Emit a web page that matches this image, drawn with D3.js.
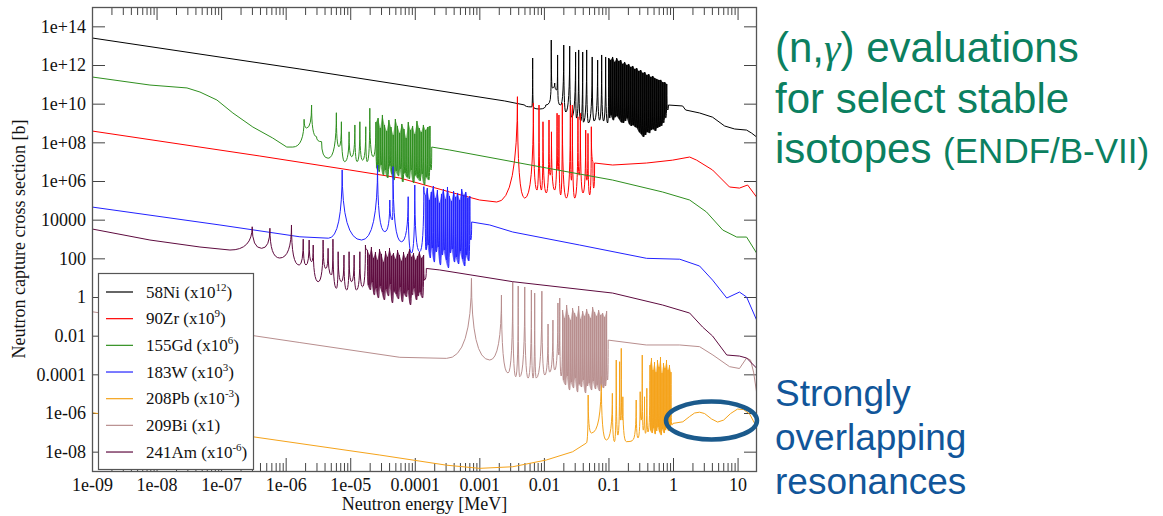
<!DOCTYPE html>
<html><head><meta charset="utf-8">
<script src="https://cdn.jsdelivr.net/npm/d3@7"></script>
<style>body{margin:0;background:#fff;} svg{display:block;}</style>
</head><body><svg id="c" width="1163" height="516"></svg>
<script>
// ---------- axis ticks ----------
const xTickValues = [1e-9,1e-8,1e-7,1e-6,1e-5,1e-4,1e-3,1e-2,1e-1,1,10];
const xTickLabels = ["1e-09","1e-08","1e-07","1e-06","1e-05","0.0001","0.001","0.01","0.1","1","10"];
const yTickValues = [1e14,1e12,1e10,1e8,1e6,1e4,1e2,1,1e-2,1e-4,1e-6,1e-8];
const yTickLabels = ["1e+14","1e+12","1e+10","1e+08","1e+06","10000","100","1","0.01","0.0001","1e-06","1e-08"];

// ---------- 58Ni (x1e12) ----------
const ni58Head = [[1e-9,2.5e13],[1.66e-6,6.2e11],[2.47e-3,1.38e10],[5.05e-3,8.5e9],[6.5e-3,6.8e9],[6.7e-3,2.3e12],[6.9e-3,6.8e9],[8.6e-3,5.3e9],[1.07e-2,8.5e9],[1.27e-2,2.8e10],[1.3e-2,1.96e13],[1.35e-2,6.5e10],[1.47e-2,1.17e11],[1.58e-2,5.1e10],[1.63e-2,3.3e12],[1.69e-2,1.2e10],[1.82e-2,8.5e9],[2.03e-2,1.08e13],[2.18e-2,3.7e9],[2.51e-2,9.5e12],[2.69e-2,2.0e9],[3.1e-2,4.7e12],[3.2e-2,1.8e9],[3.46e-2,6e12],[3.72e-2,1.26e9],[3.99e-2,4.7e12],[4.1e-2,1.1e9],[4.6e-2,6e12],[4.9e-2,1.0e9],[5.6e-2,2.6e12],[6.0e-2,1.26e9],[6.8e-2,1.8e12],[7.3e-2,1.4e9],[7.85e-2,3.3e12],[8.4e-2,1.26e9],[9.05e-2,2.6e12],[9.7e-2,1.0e9]];
const ni58ForestE = [0.101,0.108,0.116,0.125,0.134,0.144,0.155,0.166,0.178,0.192,0.206,0.221,0.238,0.255,0.274,0.294,0.316,0.340,0.365,0.392,0.421,0.452,0.485,0.521,0.560,0.601,0.646,0.693,0.745,0.800];
const ni58ForestPeak = [2.3e12,1.8e12,2.6e12,1.43e12,2.3e12,1.6e12,1.8e12,1.13e12,1.43e12,1.0e12,1.13e12,7.9e11,8.9e11,6.2e11,7e11,4.9e11,5.5e11,3.9e11,4.3e11,3.0e11,3.4e11,2.4e11,2.7e11,2.1e11,1.9e11,1.7e11,1.7e11,1.3e11,1.3e11,1.04e11];
const ni58ValleyE = [0.105,0.112,0.120,0.129,0.139,0.149,0.160,0.172,0.185,0.199,0.213,0.229,0.246,0.264,0.284,0.305,0.328,0.352,0.378,0.406,0.436,0.468,0.503,0.540,0.580,0.623,0.669,0.718,0.772,0.829];
const ni58Valley = [1.8e9,2.6e9,1.4e9,2.0e9,2.3e9,1.6e9,1.1e9,1.0e9,1.27e9,1.8e9,8.9e8,7e8,7.9e8,6.2e8,5.5e8,3.4e8,2.7e8,1.9e8,2.4e8,3.4e8,3.0e8,4.3e8,4.9e8,3.85e8,5.5e8,6.2e8,7e8,1.0e9,1.8e9,4.7e9];
const ni58Tail = [[0.85,8.5e9],[1.41,7.6e9],[1.57,4.7e9],[2.58,3.3e9],[4.1,2.0e9],[6.3,7e8],[9.0,4.9e8],[13.8,4.3e8],[16.5,3e8],[19.7,1.9e8]];

// ---------- 90Zr (x1e9) ----------
const zr90 = [[1e-9,3.85e8],[3.99e-7,1.96e7],[9.86e-6,3.7e6],[5.86e-5,1.43e6],[3.48e-4,2.7e5],[1.01e-3,1.04e5],[1.86e-3,8.2e4],[3.89e-3,2.3e10],[5.05e-3,1.3e5],[6.87e-3,1.08e10],[7.81e-3,3.4e5],[8.4e-3,8.5e9],[9.14e-3,3.4e5],[9.68e-3,1.16e9],[1.09e-2,2.4e5],[1.2e-2,1.43e9],[1.25e-2,2.0e6],[1.31e-2,3.5e8],[1.47e-2,3.4e5],[1.6e-2,3.2e9],[1.66e-2,3.7e6],[1.71e-2,2.6e9],[1.82e-2,1.9e5],[1.93e-2,1.05e10],[2.23e-2,1.3e5],[2.57e-2,8.5e9],[2.67e-2,1.1e6],[2.76e-2,8.5e9],[3.0e-2,1.3e5],[3.37e-2,2.1e9],[3.52e-2,2.0e6],[3.67e-2,3.2e9],[4.03e-2,2.4e5],[4.44e-2,4.3e8],[4.63e-2,1.1e6],[4.82e-2,2.9e8],[5.12e-2,1.9e5],[5.43e-2,6.4e8],[5.75e-2,9.9e6],[5.9e-2,4.3e5],[6.1e-2,8.5e6],[0.116,6.7e6],[0.39,8.5e6],[0.986,1.2e7],[1.81,1.74e7],[2.32,1.2e7],[4.1,3.7e6],[7.5,4.9e5],[10.7,4.3e5],[14.3,6.2e5],[19.7,1.48e5]];

// ---------- 155Gd (x1e6) ----------
const gd155Head = [[1e-9,2.4e11],[7.9e-9,9.2e10],[2.96e-8,6.5e10],[4.7e-8,4.0e10],[8.6e-8,1.55e10],[1.52e-7,3.3e9],[3.1e-7,6.2e8],[6.3e-7,1.67e8],[1.04e-6,5.7e7],[1.29e-6,5.7e7],[1.93e-6,1.55e9],[2.11e-6,5.5e8],[2.52e-6,8.5e9],[3.01e-6,1.95e8],[3.6e-6,1.08e8],[4.55e-6,1.5e7],[6.1e-6,3.4e9],[6.7e-6,5.9e7],[7.3e-6,1.16e9],[8.2e-6,1.0e7],[9.6e-6,3.5e8],[1.05e-5,1.8e7],[1.18e-5,7.9e8],[1.28e-5,1.0e7],[1.41e-5,1.16e9],[1.55e-5,1.2e7],[1.74e-5,6.4e8],[1.83e-5,1.0e7],[2.01e-5,5.8e9],[2.26e-5,1.8e7]];
const gd155ForestE = [2.5e-5,2.7e-5,2.92e-5,3.15e-5,3.4e-5,3.67e-5,3.97e-5,4.28e-5,4.63e-5,5.0e-5,5.4e-5,5.83e-5,6.3e-5,6.8e-5,7.34e-5,7.93e-5,8.57e-5,9.25e-5,1.0e-4,1.08e-4,1.17e-4,1.26e-4,1.36e-4,1.47e-4,1.59e-4,1.72e-4];
const gd155ForestPeak = [1.12e9,1.8e9,5.5e8,2.6e9,7.9e8,3.85e8,1.43e9,6.2e8,2.4e8,1.6e9,7.0e8,3.0e8,8.9e8,4.9e8,1.67e8,1.12e9,4.3e8,7.0e8,2.7e8,1.27e9,5.5e8,3.4e8,7.9e8,4.3e8,6.2e8,7.0e8];
const gd155ValleyE = [2.6e-5,2.81e-5,3.03e-5,3.28e-5,3.54e-5,3.82e-5,4.12e-5,4.45e-5,4.81e-5,5.2e-5,5.61e-5,6.06e-5,6.55e-5,7.07e-5,7.64e-5,8.25e-5,8.91e-5,9.62e-5,1.04e-4,1.12e-4,1.21e-4,1.31e-4,1.42e-4,1.53e-4,1.65e-4,1.79e-4];
const gd155Valley = [4.7e6,2.9e6,6.7e6,2.0e6,3.7e6,1.43e6,6.0e6,2.3e6,1.12e6,3.3e6,1.8e6,4.2e6,8.9e5,2.6e6,1.6e6,1.27e6,3.7e6,7.9e5,2.0e6,1.43e6,1.0e6,2.3e6,6.2e5,1.6e6,1.12e6,3.7e6];
const gd155Tail = [[1.83e-4,5.7e7],[3.48e-4,4.0e7],[1.1e-2,4.7e6],[0.116,1.12e6],[0.69,2.7e5],[1.81,1.04e5],[3.3,2.5e4],[5.9,2.9e3],[9.7,1.26e3],[13.8,1.26e3],[19.7,188]];

// ---------- 183W (x1e3) ----------
const w183Head = [[1e-9,4.5e4],[9.6e-8,5.3e3],[1.66e-6,1.3e3],[4.6e-6,1.1e3],[7.5e-6,3.7e6],[1.5e-5,885],[2.65e-5,6.7e6],[3.43e-5,2.4e3],[4.1e-5,1.04e5],[4.5e-5,9.6e3],[4.6e-5,5.5e6],[6.2e-5,720],[7.9e-5,1.54e5],[8.9e-5,188],[1.0e-4,6.2e5],[1.19e-4,219],[1.38e-4,5.1e5]];
const w183ForestE = [1.45e-4,1.56e-4,1.68e-4,1.8e-4,1.94e-4,2.08e-4,2.24e-4,2.41e-4,2.59e-4,2.78e-4,2.99e-4,3.21e-4,3.45e-4,3.71e-4,3.99e-4,4.29e-4,4.61e-4,4.96e-4,5.33e-4,5.73e-4,6.16e-4,6.62e-4,7.12e-4];
const w183ForestPeak = [1.9e5,4.3e5,1.04e5,2.7e5,5.5e5,1.32e5,3.4e5,7.3e4,2.1e5,3.85e5,1.17e5,4.9e5,1.67e5,9.2e4,3.0e5,1.48e5,2.4e5,1.04e5,3.85e5,1.9e5,2.7e5,1.32e5,1.67e5];
const w183ValleyE = [1.5e-4,1.62e-4,1.74e-4,1.87e-4,2.01e-4,2.16e-4,2.32e-4,2.5e-4,2.69e-4,2.88e-4,3.1e-4,3.33e-4,3.58e-4,3.85e-4,4.14e-4,4.45e-4,4.78e-4,5.14e-4,5.53e-4,5.94e-4,6.39e-4,6.87e-4,7.38e-4];
const w183Valley = [269,488,104,341,64,212,385,45,148,269,82,32,188,303,64,117,51,239,92,40,148,73,885];
const w183Tail = [[7.6e-4,7.6e3],[1.45e-3,5.3e3],[3.29e-3,2.3e3],[3.58e-2,488],[0.39,100],[1.27,90],[2.58,40],[4.1,7.5],[6.8,0.885],[10.7,1.8],[13.8,1.0],[19.7,0.065]];

// ---------- 208Pb (x1e-3) ----------
const pb208Head = [[1e-9,1.04e-6],[3.1e-7,5.9e-8],[2.87e-5,6.7e-9],[3.1e-4,2.0e-9],[1.01e-3,1.37e-9],[3.29e-3,1.66e-9],[1.09e-2,3.7e-9],[2.79e-2,9.9e-9],[4.55e-2,2.8e-8],[4.85e-2,8.5e-6],[5.43e-2,9.2e-8],[7.75e-2,7.5e-5],[9.25e-2,4.0e-8],[0.115,1.04e-5],[0.124,3.3e-8],[0.132,5.5e-4],[0.14,7.2e-8],[0.149,4.5e-4],[0.153,4.3e-7],[0.158,2.2e-3],[0.163,4.3e-7],[0.167,6.9e-6],[0.189,3.3e-8],[0.236,4.0e-8],[0.269,4.7e-6],[0.287,5.1e-8],[0.31,1.26e-5],[0.322,4.3e-7],[0.334,9.9e-4],[0.346,1.3e-7],[0.362,6.9e-6],[0.375,8.9e-8],[0.393,1.9e-5],[0.41,1.04e-7]];
const pb208ForestE = [0.44,0.464,0.49,0.517,0.545,0.575,0.607,0.64,0.675,0.712,0.751,0.793,0.836,0.882,0.93];
const pb208ForestPeak = [3.0e-4,6.9e-4,1.67e-4,4.3e-4,1.3e-4,5.5e-4,2.4e-4,7.8e-4,1.17e-4,3.8e-4,2.1e-4,5.5e-4,1.67e-4,3.0e-4,1.3e-4];
const pb208ValleyE = [0.452,0.477,0.503,0.531,0.56,0.59,0.623,0.657,0.693,0.731,0.771,0.814,0.859,0.906,0.955];
const pb208Valley = [1.3e-7,9.2e-8,1.67e-7,8.1e-8,1.17e-7,1.9e-7,1.04e-7,7.2e-8,1.48e-7,9.2e-8,1.3e-7,1.67e-7,1.17e-7,2.1e-7,2.4e-7];
const pb208Tail = [[0.996,2.9e-7],[1.42,3.5e-7],[1.81,6.6e-7],[2.16,1.0e-6],[2.58,1.1e-6],[3.08,9.4e-7],[3.96,4.9e-7],[4.91,3.4e-7],[6.08,4.3e-7],[7.8,9.4e-7],[10,1.6e-6],[12.4,1.5e-6],[15.4,8.8e-7],[18.3,3.0e-7],[19.7,1.67e-7]];

// ---------- 209Bi (x1) ----------
const bi209Head = [[1e-9,0.173],[4.7e-8,0.0257],[1.66e-6,4.4e-3],[5.86e-5,7.6e-4],[3.1e-4,6.7e-4],[7.55e-4,9.2],[1.45e-3,5.5e-4],[2.2e-3,1.26],[2.78e-3,1.17e-4],[3.29e-3,5.9],[3.66e-3,7.5e-5],[4.0e-3,3.7],[4.22e-3,7.5e-5],[5.05e-3,3.3],[5.7e-3,6.4e-5],[6.4e-3,2.3],[6.8e-3,6.4e-5],[7.2e-3,1.6],[7.6e-3,6.4e-5],[9.3e-3,2.0],[1.03e-2,9.2e-5],[1.16e-2,0.04],[1.23e-2,1.3e-4],[1.38e-2,0.064],[1.47e-2,1.67e-4],[1.65e-2,0.49],[1.7e-2,1e-3],[1.76e-2,0.88],[1.85e-2,8.2e-5]];
const bi209ForestE = [1.95e-2,2.09e-2,2.25e-2,2.41e-2,2.59e-2,2.78e-2,2.99e-2,3.21e-2,3.45e-2,3.7e-2,3.98e-2,4.27e-2,4.59e-2,4.93e-2,5.29e-2,5.68e-2,6.1e-2,6.55e-2,7.04e-2,7.56e-2,8.12e-2,8.72e-2,9.36e-2];
const bi209ForestPeak = [0.212,0.082,0.385,0.117,0.064,0.269,0.148,0.092,0.342,0.073,0.188,0.104,0.239,0.132,0.082,0.303,0.167,0.104,0.212,0.117,0.148,0.092,0.188];
const bi209ValleyE = [2.02e-2,2.17e-2,2.33e-2,2.5e-2,2.69e-2,2.88e-2,3.1e-2,3.33e-2,3.58e-2,3.84e-2,4.13e-2,4.43e-2,4.76e-2,5.11e-2,5.49e-2,5.89e-2,6.33e-2,6.79e-2,7.3e-2,7.84e-2,8.42e-2,9.04e-2,9.71e-2];
const bi209Valley = [5.1e-5,2.8e-5,8.2e-5,1.54e-5,4.0e-5,1.95e-5,6.4e-5,1.21e-5,3.15e-5,2.2e-5,5.1e-5,1.08e-5,2.5e-5,3.55e-5,1.54e-5,4.5e-5,1.74e-5,2.8e-5,1.37e-5,3.15e-5,1.95e-5,2.5e-5,5.1e-5];
const bi209Tail = [[9.9e-2,5.9e-3],[0.385,3.3e-3],[1.27,3.3e-3],[2.58,2.7e-3],[4.15,1.0e-3],[7.5,2.5e-4],[10.7,2.0e-4],[13.8,7e-4],[15.9,5.5e-4],[17.7,1.3e-4],[19.7,1.2e-5]];

// ---------- 241Am (x1e-6) ----------
const am241Head = [[1e-9,3.3e3],[7.9e-9,885],[4.7e-8,385],[1.37e-7,269],[3.03e-7,4.3e3],[4.24e-7,329],[5.7e-7,3.6e3],[8.1e-7,104],[1.23e-6,5.3e3],[1.62e-6,45],[1.87e-6,977],[2.06e-6,45],[2.31e-6,885],[2.52e-6,67],[2.67e-6,488],[3.19e-6,6.2],[3.8e-6,885],[4.19e-6,30],[4.54e-6,329],[5.1e-6,13.7],[5.4e-6,977],[6.1e-6,2.8],[6.5e-6,219],[7.3e-6,6.2],[8.0e-6,148],[8.8e-6,2.3],[9.6e-6,219],[1.05e-5,6.2],[1.15e-5,148],[1.25e-5,2.3],[1.41e-5,219],[1.55e-5,3.4],[1.72e-5,488]];
const am241ForestE = [1.85e-5,1.99e-5,2.13e-5,2.29e-5,2.46e-5,2.64e-5,2.84e-5,3.05e-5,3.27e-5,3.52e-5,3.78e-5,4.06e-5,4.36e-5,4.68e-5,5.03e-5,5.4e-5,5.8e-5,6.23e-5,6.69e-5,7.18e-5,7.72e-5,8.29e-5,8.9e-5,9.56e-5,1.03e-4,1.1e-4,1.18e-4,1.27e-4,1.37e-4];
const am241ForestPeak = [269,148,385,104,212,82,303,167,64,239,117,341,132,188,92,269,148,73,212,104,167,303,117,188,82,132,212,104,148];
const am241ValleyE = [1.92e-5,2.06e-5,2.21e-5,2.37e-5,2.55e-5,2.74e-5,2.95e-5,3.16e-5,3.39e-5,3.65e-5,3.92e-5,4.21e-5,4.52e-5,4.85e-5,5.22e-5,5.6e-5,6.01e-5,6.46e-5,6.94e-5,7.45e-5,8.0e-5,8.6e-5,9.23e-5,9.91e-5,1.07e-4,1.14e-4,1.22e-4,1.32e-4,1.42e-4];
const am241Valley = [4.2,2.3,5.9,1.26,2.9,0.885,3.7,1.8,0.70,2.6,1.12,4.7,0.49,2.0,1.42,0.785,3.3,0.55,1.6,1.0,2.3,0.385,1.26,2.9,0.70,1.12,1.8,0.885,7.5];
const am241Tail = [[1.51e-4,30],[2.44e-4,25],[3.29e-3,6.2],[0.116,1.6],[0.69,0.385],[1.81,0.148],[2.87,0.028],[4.1,9.6e-3],[6.8,1.0e-3],[10.7,8.8e-4],[13.8,7.0e-4],[19.7,2.1e-4]];

// ---------- legend / styling lists ----------
const seriesNames = ["58Ni","90Zr","155Gd","183W","208Pb","209Bi","241Am"];
const seriesScaleExp = ["12","9","6","3","-3",null,"-6"];
const seriesColors = ["#000000","#ff0000","#2f8f1f","#2222ff","#f5a31a","#b88e8e","#5e0b3f"];
const bandOpacity = [0.85,0,0.65,0.65,0.75,0.7,0.75];
// energy span of the resolved-resonance region of each evaluation [MeV]
const resonanceRanges = [[5.05e-3,0.85],[1.86e-3,6.1e-2],[1.29e-6,1.83e-4],[4.6e-6,7.6e-4],[4.55e-2,0.996],[3.1e-4,9.9e-2],[1.37e-7,1.51e-4]];

// ---------- build ----------
function forest(E,P,VE,V){const out=[];for(let i=0;i<E.length;i++){out.push([E[i],P[i]]);out.push([VE[i],V[i]]);}return out;}
const seriesData = [
  ni58Head.concat(forest(ni58ForestE,ni58ForestPeak,ni58ValleyE,ni58Valley),ni58Tail),
  zr90,
  gd155Head.concat(forest(gd155ForestE,gd155ForestPeak,gd155ValleyE,gd155Valley),gd155Tail),
  w183Head.concat(forest(w183ForestE,w183ForestPeak,w183ValleyE,w183Valley),w183Tail),
  pb208Head.concat(forest(pb208ForestE,pb208ForestPeak,pb208ValleyE,pb208Valley),pb208Tail),
  bi209Head.concat(forest(bi209ForestE,bi209ForestPeak,bi209ValleyE,bi209Valley),bi209Tail),
  am241Head.concat(forest(am241ForestE,am241ForestPeak,am241ValleyE,am241Valley),am241Tail)
];
const forestBands = [
  [0,ni58ForestE,ni58ForestPeak,ni58Valley],
  [2,gd155ForestE,gd155ForestPeak,gd155Valley],
  [3,w183ForestE,w183ForestPeak,w183Valley],
  [4,pb208ForestE,pb208ForestPeak,pb208Valley],
  [5,bi209ForestE,bi209ForestPeak,bi209Valley],
  [6,am241ForestE,am241ForestPeak,am241Valley]
];

const L=92,T=7,R=757,B=471;
const x=d3.scaleLog().domain([1e-9,20]).range([L,R]);
const y=d3.scaleLog().domain([1e-9,1e15]).range([B,T]);
const svg=d3.select("#c");
const serif="'Liberation Serif','Times New Roman',serif";
const sans="'Liberation Sans',Arial,Helvetica,sans-serif";

svg.append("defs").append("clipPath").attr("id","clip").append("rect")
  .attr("x",L).attr("y",T).attr("width",R-L).attr("height",B-T);

const minorX=[];
xTickValues.forEach(d=>{for(let k=2;k<=9;k++){const v=d*k;if(v<20)minorX.push(v);}});

function styleAxis(g){g.select(".domain").remove();g.selectAll(".tick line").attr("stroke","#444");g.selectAll("text").attr("font-family",serif).attr("font-size",18).attr("fill","#111");}

svg.append("g").attr("transform",`translate(0,${B})`).call(d3.axisBottom(x).tickValues(xTickValues).tickSize(-13).tickPadding(7).tickFormat((d,i)=>xTickLabels[i])).call(styleAxis);
svg.append("g").attr("transform",`translate(0,${B})`).call(d3.axisBottom(x).tickValues(minorX).tickSize(-8).tickFormat("")).call(styleAxis);
svg.append("g").attr("transform",`translate(0,${T})`).call(d3.axisTop(x).tickValues(xTickValues).tickSize(-13).tickFormat("")).call(styleAxis);
svg.append("g").attr("transform",`translate(0,${T})`).call(d3.axisTop(x).tickValues(minorX).tickSize(-8).tickFormat("")).call(styleAxis);
svg.append("g").attr("transform",`translate(${L},0)`).call(d3.axisLeft(y).tickValues(yTickValues).tickSize(-13).tickPadding(6).tickFormat((d,i)=>yTickLabels[i])).call(styleAxis);
svg.append("g").attr("transform",`translate(${R},0)`).call(d3.axisRight(y).tickValues(yTickValues).tickSize(-13).tickFormat("")).call(styleAxis);

// curve: straight segments outside the resonance region, Lorentzian-like cusps inside
function resonanceCurve(px0,px1){
  return function(context){
    let n=0,px,py;
    return {
      areaStart(){},areaEnd(){},
      lineStart(){n=0;},lineEnd(){},
      point(xx,yy){
        xx=+xx;yy=+yy;
        if(n===0){context.moveTo(xx,yy);}
        else{
          const inside = px>=px0-0.01 && xx<=px1+0.01;
          if(!inside) context.lineTo(xx,yy);
          else if(yy<py) context.quadraticCurveTo(xx,py,xx,yy);
          else context.quadraticCurveTo(px,yy,xx,yy);
        }
        n++;px=xx;py=yy;
      }
    };
  };
}

const gS=svg.append("g").attr("clip-path","url(#clip)");
seriesData.forEach((s,i)=>{
  const r=resonanceRanges[i];
  const line=d3.line().x(d=>x(d[0])).y(d=>y(d[1])).curve(resonanceCurve(x(r[0]),x(r[1])));
  forestBands.filter(f=>f[0]===i).forEach(f=>{
    const pts=f[1].map((e,k)=>[e,f[2][k],f[3][k]]);
    gS.append("path").datum(pts)
      .attr("d",d3.area().x(d=>x(d[0])).y1(d=>y(d[1])).y0(d=>y(d[2])))
      .attr("fill",seriesColors[i]).attr("fill-opacity",bandOpacity[i]).attr("stroke","none");
  });
  gS.append("path").datum(s).attr("d",line).attr("fill","none")
    .attr("stroke",seriesColors[i]).attr("stroke-width",1).attr("stroke-linejoin","round");
});

// frame
svg.append("rect").attr("x",L+0.5).attr("y",T+0.5).attr("width",R-L-1).attr("height",B-T)
  .attr("fill","none").attr("stroke","#555").attr("stroke-width",1.3);

// axis titles
svg.append("text").attr("x",(L+R)/2).attr("y",510).attr("text-anchor","middle")
  .attr("font-family",serif).attr("font-size",18).attr("fill","#111").text("Neutron energy [MeV]");
svg.append("text").attr("transform",`translate(25,${(T+B)/2}) rotate(-90)`).attr("text-anchor","middle")
  .attr("font-family",serif).attr("font-size",18).attr("fill","#111").text("Neutron capture cross section [b]");

// legend
const lg=svg.append("g");
lg.append("rect").attr("x",98.5).attr("y",273.5).attr("width",155).attr("height",196)
  .attr("fill","#fff").attr("stroke","#555").attr("stroke-width",1.2);
seriesNames.forEach((n,i)=>{
  const yy=292+i*26.67;
  lg.append("line").attr("x1",106).attr("x2",133).attr("y1",yy).attr("y2",yy)
    .attr("stroke",seriesColors[i]).attr("stroke-width",1.2);
  const t=lg.append("text").attr("x",146).attr("y",yy+5.5).attr("font-family",serif).attr("font-size",17).attr("fill","#111");
  if(seriesScaleExp[i]===null){t.text(n+" (x1)");}
  else{
    t.append("tspan").text(n+" (x10");
    t.append("tspan").attr("font-size",11).attr("dy",-7).text(seriesScaleExp[i]);
    t.append("tspan").attr("dy",7).text(")");
  }
});

// annotations
const green="#0b8060";
const ann=svg.append("g").attr("font-family",sans).attr("fill",green);
const t1=ann.append("text").attr("x",775).attr("y",62).attr("font-size",42);
t1.append("tspan").text("(n,");
t1.append("tspan").attr("font-family",serif).attr("font-style","italic").text("γ");
t1.append("tspan").text(") evaluations");
ann.append("text").attr("x",775).attr("y",113).attr("font-size",42).text("for select stable");
const t3=ann.append("text").attr("x",775).attr("y",163).attr("font-size",42);
t3.append("tspan").text("isotopes ");
t3.append("tspan").attr("font-size",35).text("(ENDF/B-VII)");

const blue="#11569a";
const ann2=svg.append("g").attr("font-family",sans).attr("fill",blue).attr("font-size",37);
ann2.append("text").attr("x",775).attr("y",406).text("Strongly");
ann2.append("text").attr("x",775).attr("y",450).text("overlapping");
ann2.append("text").attr("x",775).attr("y",494).text("resonances");

svg.append("ellipse").attr("cx",711.5).attr("cy",420.5).attr("rx",45.5).attr("ry",19)
  .attr("fill","none").attr("stroke","#1b5a8c").attr("stroke-width",4.5);
</script>
</body></html>
